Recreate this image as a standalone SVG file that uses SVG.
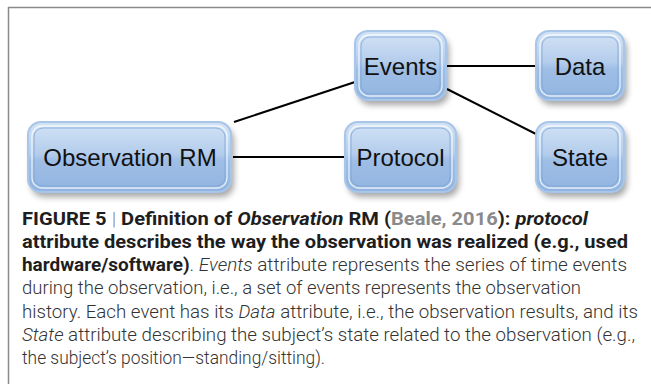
<svg xmlns="http://www.w3.org/2000/svg" width="651" height="384" viewBox="0 0 651 384">
  <defs>
    <linearGradient id="fillG" x1="0" y1="0" x2="0" y2="1">
      <stop offset="0" stop-color="#d3e3f5"/>
      <stop offset="0.45" stop-color="#b4cdec"/>
      <stop offset="0.55" stop-color="#9fbee6"/>
      <stop offset="1" stop-color="#90b4df"/>
    </linearGradient>
    <filter id="shadow" x="-20%" y="-20%" width="140%" height="150%">
      <feGaussianBlur stdDeviation="3"/>
    </filter>
    <style>
      .shadow { fill: #000; opacity: 0.35; filter: url(#shadow); }
      .box { fill: url(#fillG); stroke: #a8c5ea; stroke-width: 2; }
      .inner { fill: none; stroke: #ffffff; stroke-opacity: 0.75; stroke-width: 1.3; }
      .edge { fill: none; stroke: #7ea5d6; stroke-width: 0.8; }
      .label { font-family: "Liberation Sans", Arial, sans-serif; font-size: 24px; fill: #111; text-anchor: middle; }
      .conn { stroke: #000; stroke-width: 2; fill: none; }
      .frame { stroke: #8a8a8a; stroke-width: 1.5; fill: none; }
      .cap { font-family: Roboto, "Liberation Sans", Arial, sans-serif; font-size: 18px; font-weight: 300; fill: #333; }
      .b { font-weight: 700; fill: #1e1e1e; }
      .i { font-style: italic; }
      .link { fill: #8a8a8a; }
    </style>
  </defs>

  <g id="frame">
    <line class="frame" x1="8" y1="7.5" x2="651" y2="7.5"/>
    <line class="frame" x1="8.5" y1="7" x2="8.5" y2="384"/>
  </g>

  <g id="connectors">
    <line class="conn" x1="234" y1="122" x2="355" y2="82"/>
    <line class="conn" x1="233" y1="157" x2="345" y2="157"/>
    <line class="conn" x1="447" y1="66" x2="536" y2="66"/>
    <line class="conn" x1="447" y1="89" x2="536" y2="134"/>
  </g>

  <g id="node-observation-rm">
    <rect class="shadow" x="31" y="127" width="203" height="70" rx="13"/>
    <rect class="box" x="28" y="122" width="203" height="70" rx="13"/>
    <rect class="inner" x="32" y="126" width="195" height="62" rx="10"/>
    <rect class="edge" x="34" y="128" width="191" height="58" rx="9"/>
    <text class="label" x="130" y="165.5">Observation RM</text>
  </g>

  <g id="node-events">
    <rect class="shadow" x="358" y="36" width="91" height="69" rx="13"/>
    <rect class="box" x="355" y="31" width="91" height="69" rx="13"/>
    <rect class="inner" x="359" y="35" width="83" height="61" rx="10"/>
    <rect class="edge" x="361" y="37" width="79" height="57" rx="9"/>
    <text class="label" x="400.5" y="74.5">Events</text>
  </g>

  <g id="node-protocol">
    <rect class="shadow" x="348" y="127" width="111" height="70" rx="13"/>
    <rect class="box" x="345" y="122" width="111" height="70" rx="13"/>
    <rect class="inner" x="349" y="126" width="103" height="62" rx="10"/>
    <rect class="edge" x="351" y="128" width="99" height="58" rx="9"/>
    <text class="label" x="400.5" y="165.5">Protocol</text>
  </g>

  <g id="node-data">
    <rect class="shadow" x="539" y="36" width="88" height="69" rx="13"/>
    <rect class="box" x="536" y="31" width="88" height="69" rx="13"/>
    <rect class="inner" x="540" y="35" width="80" height="61" rx="10"/>
    <rect class="edge" x="542" y="37" width="76" height="57" rx="9"/>
    <text class="label" x="580" y="74.5">Data</text>
  </g>

  <g id="node-state">
    <rect class="shadow" x="539" y="127" width="88" height="70" rx="13"/>
    <rect class="box" x="536" y="122" width="88" height="70" rx="13"/>
    <rect class="inner" x="540" y="126" width="80" height="62" rx="10"/>
    <rect class="edge" x="542" y="128" width="76" height="58" rx="9"/>
    <text class="label" x="580" y="165.5">State</text>
  </g>

  <g id="caption">
    <text class="cap" x="22" y="224.5" textLength="566" lengthAdjust="spacingAndGlyphs"><tspan class="b">FIGURE 5 </tspan><tspan fill="#888">|</tspan><tspan class="b"> Definition of </tspan><tspan class="b i">Observation</tspan><tspan class="b"> RM (</tspan><tspan class="b link">Beale, 2016</tspan><tspan class="b">): </tspan><tspan class="b i">protocol</tspan></text>
    <text class="cap b" x="22" y="247.8" textLength="606" lengthAdjust="spacingAndGlyphs">attribute describes the way the observation was realized (e.g., used</text>
    <text class="cap" x="22" y="271.1" textLength="605" lengthAdjust="spacingAndGlyphs"><tspan class="b">hardware/software)</tspan>. <tspan class="i">Events</tspan> attribute represents the series of time events</text>
    <text class="cap" x="22" y="294.4" textLength="559" lengthAdjust="spacingAndGlyphs">during the observation, i.e., a set of events represents the observation</text>
    <text class="cap" x="22" y="317.7" textLength="616" lengthAdjust="spacingAndGlyphs">history. Each event has its <tspan class="i">Data</tspan> attribute, i.e., the observation results, and its</text>
    <text class="cap" x="22" y="341" textLength="613" lengthAdjust="spacingAndGlyphs"><tspan class="i">State</tspan> attribute describing the subject’s state related to the observation (e.g.,</text>
    <text class="cap" x="22" y="364.3" textLength="303" lengthAdjust="spacingAndGlyphs">the subject’s position—standing/sitting).</text>
  </g>
</svg>
